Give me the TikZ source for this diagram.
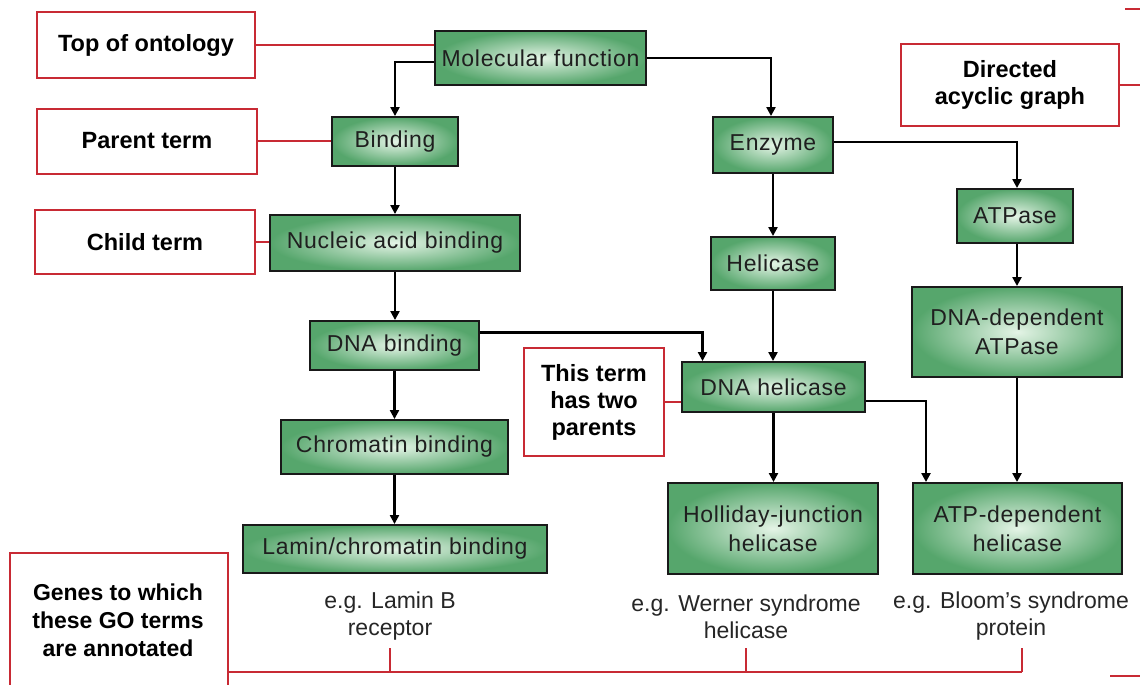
\documentclass[tikz,border=0pt]{standalone}
\usepackage{fontspec}
\setmainfont{Liberation Sans}
\newfontfamily\boxfont[LetterSpace=3]{Liberation Sans}
\usetikzlibrary{arrows.meta}
\definecolor{goIn}{RGB}{228,244,230}
\definecolor{goOut}{RGB}{86,166,108}
\definecolor{gored}{RGB}{200,42,52}
\begin{document}
\begin{tikzpicture}[x=1pt,y=-1pt,
  gobox/.style={draw=black!90,line width=1.9pt,inner color=goIn,outer color=goOut,inner sep=0pt,align=center,font=\boxfont\fontsize{23}{29}\selectfont,text=black!88},
  lab/.style={draw=gored,line width=2pt,fill=white,inner sep=0pt,align=center,font=\bfseries\fontsize{23.5}{27}\selectfont},
  arr/.style={line width=2.2pt,-{Triangle[length=9pt,width=9pt]}},
  redl/.style={draw=gored,line width=1.7pt},
  ex/.style={align=center,inner sep=0pt,font=\fontsize{23}{27}\selectfont,text=black!85}]
\useasboundingbox (0,0) rectangle (1140,685);
\fill[white] (0,0) rectangle (1140,685);
\clip (0,0) rectangle (1140,685);

% GO term boxes
\node[gobox,minimum width=211pt,minimum height=54pt] (mf) at (540.5,58) {Molecular function};
\node[gobox,minimum width=126pt,minimum height=49pt] (binding) at (395,141.5) {Binding};
\node[gobox,minimum width=120pt,minimum height=56pt] (enzyme) at (773,145) {Enzyme};
\node[gobox,minimum width=250pt,minimum height=56pt] (nucleic) at (395,243) {Nucleic acid binding};
\node[gobox,minimum width=116pt,minimum height=54pt] (atpase) at (1015,216) {ATPase};
\node[gobox,minimum width=124pt,minimum height=53pt] (helicase) at (773,263.5) {Helicase};
\node[gobox,minimum width=210pt,minimum height=90pt] (dnadep) at (1017,332) {DNA-dependent\\ATPase};
\node[gobox,minimum width=169pt,minimum height=49pt] (dnabind) at (394.5,345.5) {DNA binding};
\node[gobox,minimum width=183pt,minimum height=50pt] (dnahel) at (773.5,387) {DNA helicase};
\node[gobox,minimum width=227pt,minimum height=54pt] (chrom) at (394.5,447) {Chromatin binding};
\node[gobox,minimum width=304pt,minimum height=48pt] (lamin) at (395,549) {Lamin/chromatin binding};
\node[gobox,minimum width=210pt,minimum height=91pt] (holl) at (773,528.5) {Holliday-junction\\helicase};
\node[gobox,minimum width=209pt,minimum height=91pt] (atpdep) at (1017.5,528.5) {ATP-dependent\\helicase};

% red label boxes
\node[lab,minimum width=218pt,minimum height=65pt] (top) at (146,45) {Top of ontology};
\node[lab,minimum width=220pt,minimum height=65pt] (parent) at (147,141) {Parent term};
\node[lab,minimum width=220pt,minimum height=64pt] (child) at (145,242) {Child term};
\node[lab,minimum width=218pt,minimum height=82pt] (dag) at (1010,85) {Directed\\acyclic graph};
\node[lab,minimum width=140pt,minimum height=108pt] (two) at (594,402) {This term\\has two\\parents};

% genes box (open at the bottom edge)
\coordinate (gBL) at (10,700);
\coordinate (gTL) at (10,553);
\coordinate (gTR) at (228,553);
\coordinate (gBR) at (228,700);
\draw[gored,line width=2pt] (gBL) -- (gTL) -- (gTR) -- (gBR);
\node[align=center,inner sep=0pt,font=\bfseries\fontsize{23}{28}\selectfont] (genes) at (118,620) {Genes to which\\these GO terms\\are annotated};

% example genes
\node[ex] (ex1) at (390,616.5) {e.g. Lamin B\\receptor};
\node[ex] (ex2) at (746,616.5) {e.g. Werner syndrome\\helicase};
\node[ex] (ex3) at (1011,616.5) {e.g. Bloom’s syndrome\\protein};

% black connectors
\draw[arr] ([yshift=-4pt]mf.west) -| (binding.north);
\draw[arr] (mf.east) -| ([xshift=-2pt]enzyme.north);
\draw[arr] ([yshift=3pt]enzyme.east) -| ([xshift=2pt]atpase.north);
\draw[arr] ([xshift=2pt]atpase.south) -- ([xshift=2pt]atpase.south |- dnadep.north);
\draw[arr] (enzyme.south) -- (helicase.north);
\draw[arr] (helicase.south) -- (helicase.south |- dnahel.north);
\draw[arr] (dnahel.south) -- (dnahel.south |- holl.north);
\draw[arr] (dnadep.south) -- (dnadep.south |- atpdep.north);
\draw[arr] ([yshift=13pt]dnabind.east) -| ([xshift=-71pt]dnahel.north);
\draw[arr] ([yshift=-14pt]dnahel.east) -| ([xshift=-91.5pt]atpdep.north);
\draw[arr] (binding.south) -- (binding.south |- nucleic.north);
\draw[arr] (nucleic.south) -- (nucleic.south |- dnabind.north);
\draw[arr] (dnabind.south) -- (dnabind.south |- chrom.north);
\draw[arr] (chrom.south) -- (chrom.south |- lamin.north);

% red connectors
\draw[redl] (top.east) -- (top.east -| mf.west);
\draw[redl] (parent.east) -- (parent.east -| binding.west);
\draw[redl] (child.east) -- (child.east -| nucleic.west);
\draw[redl] (two.east) -- (two.east -| dnahel.west);
\coordinate (dagR) at (1142,85);
\draw[redl] (dag.east) -- (dagR);
\coordinate (trA) at (1125,9);
\coordinate (trB) at (1142,9);
\draw[redl] (trA) -- (trB);
\coordinate (brA) at (1110,676);
\coordinate (brB) at (1142,676);
\draw[redl] (brA) -- (brB);

% bracket under the example genes
\coordinate (bL) at (228,672);
\coordinate (bR) at (1022,672);
\coordinate (t1) at (390,648);
\coordinate (t2) at (746,648);
\coordinate (t3) at (1022,648);
\draw[redl] (bL) -- (bR);
\draw[redl] (t1) -- (t1 |- bL);
\draw[redl] (t2) -- (t2 |- bL);
\draw[redl] (t3) -- (t3 |- bL);
\end{tikzpicture}
\end{document}
